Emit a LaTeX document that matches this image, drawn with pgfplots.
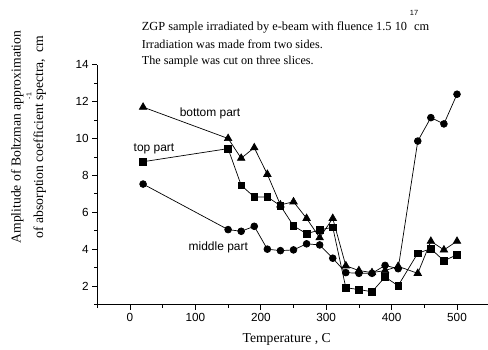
\documentclass[border=0pt]{standalone}
\usepackage{fontspec}
\setmainfont{Liberation Serif}
\newfontfamily\arial{Liberation Sans}
\usepackage{pgfplots}
\usepackage{pgfplotstable}
\pgfplotsset{compat=1.18}

\pgfplotstableread{
T v
20 8.74
150 9.45
170 7.46
190 6.83
210 6.83
230 6.36
250 5.26
270 4.84
290 5.04
310 5.19
330 1.91
350 1.81
370 1.69
390 2.49
410 2.02
440 3.78
460 4.02
480 3.37
500 3.70
}\toppart

\pgfplotstableread{
T v
20 11.7
150 10.0
170 8.93
190 9.5
210 8.06
230 6.4
250 6.57
270 5.67
290 4.62
310 5.67
330 3.10
350 2.84
370 2.73
390 2.84
410 3.07
440 2.69
460 4.43
480 3.96
500 4.43
}\bottompart

\pgfplotstableread{
T v
20 7.53
150 5.06
170 4.97
190 5.24
210 4.00
230 3.92
250 3.96
270 4.29
290 4.23
310 3.51
330 2.73
350 2.69
370 2.69
390 3.12
410 2.94
440 9.86
460 11.13
480 10.79
500 12.4
}\middlepart

\begin{document}
\begin{tikzpicture}[x=1bp,y=1bp]
\path[use as bounding box] (0,0) rectangle (488,349);
\begin{axis}[
  at={(97.3bp,44.5bp)}, anchor=south west,
  scale only axis, width=392.4bp, height=239.8bp,
  xmin=-50, xmax=550, ymin=1, ymax=14,
  axis lines=left,
  axis line style={-, line width=0.8bp},
  tick align=outside,
  xtick={0,100,...,500},
  minor xtick={-50,50,150,250,350,450,550},
  ytick={2,4,...,14},
  minor ytick={1,3,...,13},
  major tick length=5bp, minor tick length=3bp,
  tick style={black, line width=0.7bp},
  ticklabel style={font=\arial\fontsize{11.8}{13}\selectfont},
  /pgf/number format/assume math mode=true,
  clip=false,
  every axis plot/.append style={black, line width=0.7bp},
]
\addplot[mark=square*, mark size=3.3bp, mark options={solid}] table[x=T,y=v] {\toppart};
\addplot[mark=triangle*, mark size=4.3bp, mark options={solid}] table[x=T,y=v] {\bottompart};
\addplot[mark=*, mark size=3.4bp, mark options={solid}] table[x=T,y=v] {\middlepart};
\end{axis}

% annotations
\node[font=\arial\fontsize{12}{14}\selectfont] at (210,349-113.3) {bottom part};
\node[font=\arial\fontsize{12}{14}\selectfont] at (154,349-149) {top part};
\node[font=\arial\fontsize{12}{14}\selectfont] at (218.3,349-247.7) {middle part};

% title text
\node[anchor=base west, inner sep=0pt, font=\fontsize{12.4}{14}\selectfont] at (141.7,349-30.5) {ZGP sample irradiated by e-beam with fluence 1.5 10\hspace{7bp}cm};
\node[inner sep=0pt, font=\arial\fontsize{7.5}{8}\selectfont] at (414,349-12.5) {17};
\node[anchor=base west, inner sep=0pt, font=\fontsize{12.2}{14}\selectfont] at (141.7,349-48) {Irradiation was made from two sides.};
\node[anchor=base west, inner sep=0pt, font=\fontsize{12.2}{14}\selectfont] at (141.7,349-64.5) {The sample was cut on three slices.};

% axis labels
\node[anchor=base, inner sep=0pt, font=\fontsize{13.7}{15}\selectfont] at (286.7,7) {Temperature , C};
\node[anchor=base, rotate=90, inner sep=0pt, font=\fontsize{13.7}{15}\selectfont] at (20.5,349-137) {Amplitude of Boltzman approximation};
\node[anchor=base, rotate=90, inner sep=0pt, font=\fontsize{13.7}{15}\selectfont] at (43,349-137) {of absorption coefficient spectra,\hspace{6bp}cm};
\node[rotate=90, inner sep=0pt, font=\arial\fontsize{7}{8}\selectfont] at (29,349-96) {-1};
\end{tikzpicture}
\end{document}
